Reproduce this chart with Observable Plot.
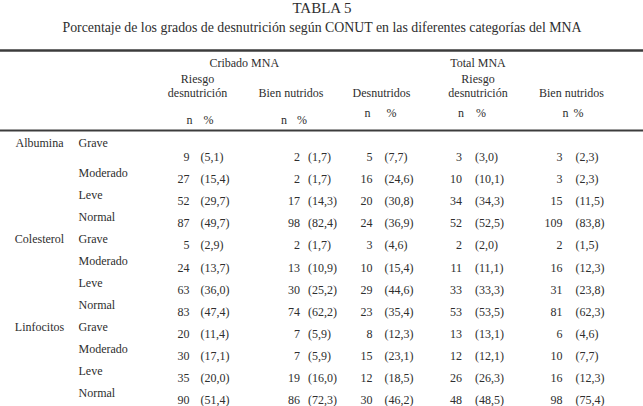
<!DOCTYPE html>
<html><head><meta charset="utf-8">
<script src="https://cdn.jsdelivr.net/npm/d3@7"></script>
<script src="https://cdn.jsdelivr.net/npm/@observablehq/plot@0.6"></script>
<style>
html,body{margin:0;padding:0;background:#fff;}
svg{display:block;}
</style></head><body><div id="chart"></div>
<script>
// ---------- DATA ----------
const title = "TABLA 5";
const subtitle = "Porcentaje de los grados de desnutrición según CONUT en las diferentes categorías del MNA";
const groupHeaders = ["Cribado MNA", "Total MNA"];
const columnHeaders = [["Riesgo", "desnutrición"], ["Bien nutridos"], ["Desnutridos"], ["Riesgo", "desnutrición"], ["Bien nutridos"]];
const subHeaders = ["n", "%"];
const parameters = ["Albumina", "Colesterol", "Linfocitos"];
const grades = ["Grave", "Moderado", "Leve", "Normal"];

const cribadoRiesgoN   = [9, 27, 52, 87, 5, 24, 63, 83, 20, 30, 35, 90];
const cribadoRiesgoPct = [5.1, 15.4, 29.7, 49.7, 2.9, 13.7, 36.0, 47.4, 11.4, 17.1, 20.0, 51.4];
const cribadoBienN     = [2, 2, 17, 98, 2, 13, 30, 74, 7, 7, 19, 86];
const cribadoBienPct   = [1.7, 1.7, 14.3, 82.4, 1.7, 10.9, 25.2, 62.2, 5.9, 5.9, 16.0, 72.3];
const totalDesnN       = [5, 16, 20, 24, 3, 10, 29, 23, 8, 15, 12, 30];
const totalDesnPct     = [7.7, 24.6, 30.8, 36.9, 4.6, 15.4, 44.6, 35.4, 12.3, 23.1, 18.5, 46.2];
const totalRiesgoN     = [3, 10, 34, 52, 2, 11, 33, 53, 13, 12, 26, 48];
const totalRiesgoPct   = [3.0, 10.1, 34.3, 52.5, 2.0, 11.1, 33.3, 53.5, 13.1, 12.1, 26.3, 48.5];
const totalBienN       = [3, 3, 15, 109, 2, 16, 31, 81, 6, 10, 16, 98];
const totalBienPct     = [2.3, 2.3, 11.5, 83.8, 1.5, 12.3, 23.8, 62.3, 4.6, 7.7, 12.3, 75.4];

// ---------- LAYOUT (styling only) ----------
const W = 643, H = 406;
const FONT = "Liberation Serif";
const INK = "#2e2e2e";
// column slots: -2 parameter, -1 grade, 0..4 value columns
const xDomain = [-2, -1, 0, 4];
const xRange = [39, 78, 197, 571];
// row slots: -7 title, -6 subtitle, -5 top rule, -4 group, -3 header line 1, -2 header line 2, -1 n/%, -0.5 rule, 0..11 body
const yDomain = [-7, -6, -5, -4, -3, -2, -1, -0.5, 0, 11];
const yRange = [8, 27, 50, 63, 79, 93, 113, 130, 156.5, 400];
const groupCol = [0.5, 3];
const colHdrDx = [0, 0, -3, 0, 0];
const nDx = [-8, 9, -12, -16, -9];
const pctDx = [3, 17, 0, -3, 4];
const nHdrDx = [-8, -7, -17, -17, -6];
const pctHdrDx = [11, 11, 7, 3, 7];
const nHdrDy = [7, 7, 0, 0, 0];

// ---------- BUILD ----------
const fmt = v => "(" + v.toFixed(1).replace(".", ",") + ")";
const seriesN = [cribadoRiesgoN, cribadoBienN, totalDesnN, totalRiesgoN, totalBienN];
const seriesPct = [cribadoRiesgoPct, cribadoBienPct, totalDesnPct, totalRiesgoPct, totalBienPct];

const rowLabels = [];
parameters.forEach((p, pi) => grades.forEach((g, gi) => {
  rowLabels.push({param: gi === 0 ? p : "", grade: g, row: pi * grades.length + gi});
}));
const labelY = d => d.row * 0.994 - 0.27;

const headerLines = [];
columnHeaders.forEach((lines, c) => {
  lines.forEach((t, k) => headerLines.push({col: c, row: -2 - (lines.length - 1 - k), text: t}));
});

const common = {fontFamily: FONT, fontSize: 12, fill: INK};
const marks = [
  Plot.text([title], {y: () => -7, text: d => d, fontFamily: FONT, fontSize: 15, fill: INK}),
  Plot.text([subtitle], {y: () => -6, text: d => d, fontFamily: FONT, fontSize: 13.85, fill: INK}),
  Plot.ruleY([-5], {stroke: "#3c3c3c", strokeWidth: 2.5}),
  Plot.ruleY([-0.5], {stroke: "#3c3c3c", strokeWidth: 2}),
  Plot.text(groupHeaders, {x: (d, i) => groupCol[i], y: () => -4, text: d => d, ...common}),
  Plot.text(rowLabels, {x: () => -2, y: labelY, text: "param", ...common}),
  Plot.text(rowLabels, {x: () => -1, y: labelY, text: "grade", textAnchor: "start", ...common})
];
seriesN.forEach((arr, c) => {
  marks.push(Plot.text(headerLines.filter(h => h.col === c), {x: "col", y: "row", text: "text", dx: colHdrDx[c], ...common}));
  marks.push(Plot.text([subHeaders[0]], {x: () => c, y: () => -1, text: d => d, dx: nHdrDx[c], dy: nHdrDy[c], ...common}));
  marks.push(Plot.text([subHeaders[1]], {x: () => c, y: () => -1, text: d => d, dx: pctHdrDx[c], dy: nHdrDy[c], ...common}));
  marks.push(Plot.text(arr, {x: () => c, y: (d, i) => i, text: d => String(d), textAnchor: "end", dx: nDx[c], ...common}));
  marks.push(Plot.text(seriesPct[c], {x: () => c, y: (d, i) => i, text: fmt, textAnchor: "start", dx: pctDx[c], ...common}));
});

const chart = Plot.plot({
  width: W, height: H,
  margin: 0,
  style: {background: "#fff", fontFamily: FONT},
  x: {type: "linear", domain: xDomain, range: xRange, axis: null},
  y: {type: "linear", domain: yDomain, range: yRange, axis: null},
  marks
});
document.getElementById("chart").appendChild(chart);
</script>
</body></html>
